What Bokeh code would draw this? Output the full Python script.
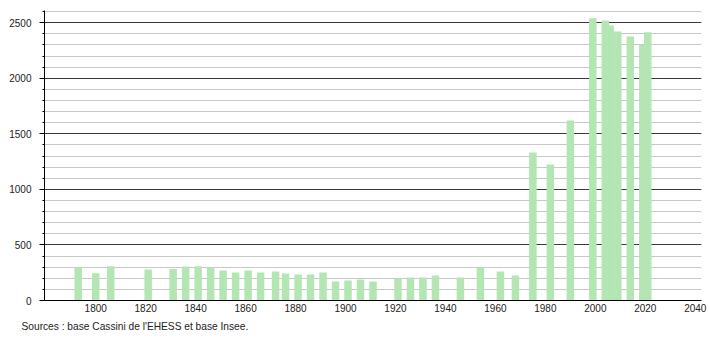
from bokeh.plotting import figure
from bokeh.models import Range1d, SingleIntervalTicker, FixedTicker, Title
from bokeh.embed import file_html
from bokeh.resources import INLINE

years = [1793, 1800, 1806, 1821, 1831, 1836, 1841, 1846, 1851, 1856, 1861,
         1866, 1872, 1876, 1881, 1886, 1891, 1896, 1901, 1906, 1911, 1921,
         1926, 1931, 1936, 1946, 1954, 1962, 1968, 1975, 1982, 1990, 1999,
         2004, 2006, 2009, 2014, 2019, 2021]
population = [300, 246, 309, 280, 283, 306, 308, 294, 270, 252, 270,
              252, 261, 242, 234, 234, 252, 171, 180, 189, 171, 195,
              207, 207, 225, 207, 296, 261, 225, 1332, 1224, 1620, 2540,
              2520, 2475, 2421, 2376, 2301, 2415]
x_ticks = [1800, 1820, 1840, 1860, 1880, 1900, 1920, 1940, 1960, 1980, 2000, 2020, 2040]
source_text = "Sources : base Cassini de l'EHESS et base Insee."

FONT = "Liberation Sans"

p = figure(width=710, height=340, output_backend="svg", toolbar_location=None,
           x_range=Range1d(1779.5, 2042.5), y_range=Range1d(0, 2610),
           min_border_left=44, min_border_right=9, min_border_top=10,
           min_border_bottom=40)
p.outline_line_color = None
p.background_fill_color = "white"

p.vbar(x=years, top=population, width=3, bottom=0,
       fill_color="#b3e6b3", line_color=None)

# grids
p.xgrid.visible = False
p.yaxis.ticker = SingleIntervalTicker(interval=500, num_minor_ticks=5)
p.ygrid.ticker = p.yaxis.ticker
p.ygrid.grid_line_color = "#3a3a3a"
p.ygrid.grid_line_width = 1
p.ygrid.minor_grid_line_color = "#c8c8c8"
p.ygrid.minor_grid_line_width = 1

# y axis
ya = p.yaxis[0]
ya.axis_line_color = "black"
ya.major_tick_line_color = "black"
ya.minor_tick_line_color = "black"
ya.major_tick_out = 5
ya.major_tick_in = 0
ya.minor_tick_out = 2
ya.minor_tick_in = 0
ya.major_label_standoff = 8
ya.major_label_text_font = FONT
ya.major_label_text_font_size = "10px"
ya.major_label_text_color = "#222222"

# x axis
xa = p.xaxis[0]
xa.ticker = FixedTicker(ticks=x_ticks)
xa.axis_line_color = "black"
xa.major_tick_line_color = None
xa.minor_tick_line_color = None
xa.major_tick_out = 0
xa.major_tick_in = 0
xa.major_label_standoff = 3
xa.major_label_text_font = FONT
xa.major_label_text_font_size = "10px"
xa.major_label_text_color = "#222222"

t = Title(text=source_text, align="left", offset=-23, text_font=FONT,
          text_font_size="10.2px", text_font_style="normal", text_color="#222222",
          standoff=8)
p.add_layout(t, "below")

open("out.html", "w").write(file_html(p, INLINE))
